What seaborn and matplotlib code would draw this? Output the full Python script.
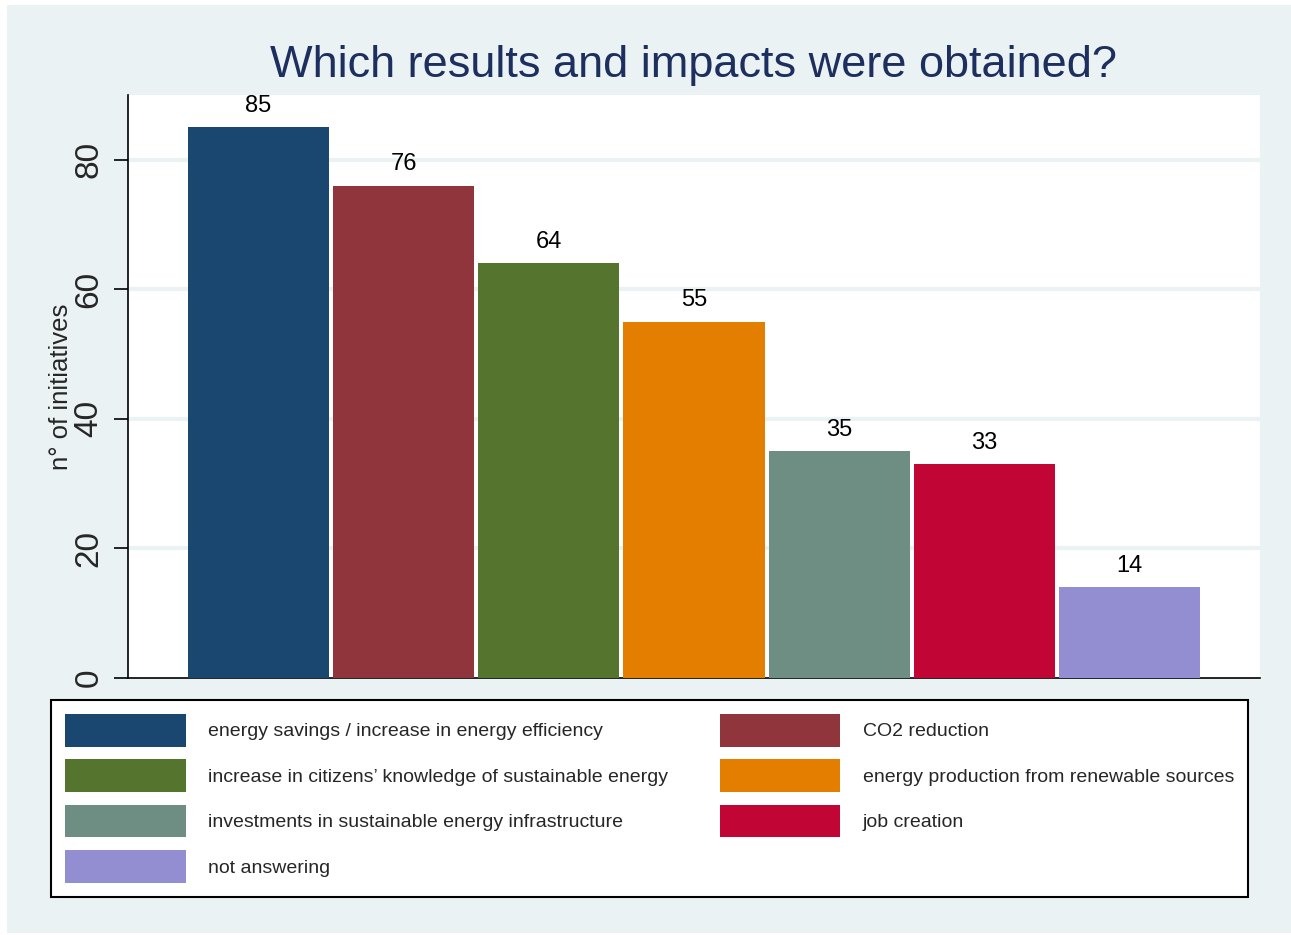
import matplotlib
matplotlib.use("Agg")
import matplotlib.pyplot as plt
import matplotlib.patches as mpatches
import seaborn as sns
import pandas as pd

categories = [
    "energy savings / increase in energy efficiency",
    "CO2 reduction",
    "increase in citizens\u2019 knowledge of sustainable energy",
    "energy production from renewable sources",
    "investments in sustainable energy infrastructure",
    "job creation",
    "not answering",
]
values = [85, 76, 64, 55, 35, 33, 14]
colors = ["#1A476F", "#90353B", "#55752F", "#E37E00", "#6E8E84", "#C10534", "#938DD2"]
yticks = [0, 20, 40, 60, 80]

bg = "#EAF2F3"
sns.set_style("white")
plt.rcParams["font.family"] = ["Liberation Sans", "DejaVu Sans"]

W, H = 1291, 935
fig = plt.figure(figsize=(W / 100, H / 100), dpi=100, facecolor="white")
fig.patches.append(mpatches.Rectangle((7 / W, 1 - 933 / H), 1 - 7 / W, (933 - 5) / H,
                                      transform=fig.transFigure, facecolor=bg,
                                      edgecolor="none", zorder=-10))

ax = fig.add_axes([128 / W, 1 - 678 / H, (1260 - 128) / W, (678 - 95) / H])
ax.set_facecolor("white")

df = pd.DataFrame({"cat": categories, "n": values})
sns.barplot(data=df, x="cat", y="n", hue="cat", palette=colors, order=categories,
            hue_order=categories, width=0.972, legend=False, saturation=1, ax=ax,
            linewidth=0, zorder=3)

for c in ax.containers:
    ax.bar_label(c, padding=7.5, fontsize=17, color="black")

ax.set_xlim(-0.9, 6.9)
ax.set_ylim(0, 90)
ax.set_xticks([])
ax.set_xlabel("")
ax.set_yticks(yticks)
ax.set_yticklabels([str(t) for t in yticks], rotation=90, va="center", fontsize=24)
ax.tick_params(axis="y", length=10, width=1.2, pad=7, color="black", left=True)
ax.set_ylabel("n\u00b0 of initiatives", fontsize=18.5, labelpad=0)
for t in yticks[1:]:
    ax.axhline(t, color=bg, lw=3, zorder=1)
for s in ["top", "right"]:
    ax.spines[s].set_visible(False)
for s in ["left", "bottom"]:
    ax.spines[s].set_color("black")
    ax.spines[s].set_linewidth(1.2)

fig.text(693 / W, 1 - 66 / H, "Which results and impacts were obtained?",
         ha="center", va="center", fontsize=32.5, color="#1C2F5E")

handles = [mpatches.Patch(facecolor=c, edgecolor="none") for c in colors]
order = [0, 2, 4, 6, 1, 3, 5]
leg = fig.legend([handles[i] for i in order], [categories[i] for i in order],
                 ncol=2, loc="upper left", mode="expand",
                 bbox_to_anchor=(51 / W, 1 - 700 / H, (1248 - 51) / W, 0),
                 fontsize=14, handlelength=6.2, handleheight=2.2,
                 handletextpad=1.15, labelspacing=0.66, borderpad=0.72,
                 borderaxespad=0, fancybox=False, framealpha=1,
                 edgecolor="black", facecolor="white")
leg.get_frame().set_linewidth(1.5)

fig.savefig("out.png", dpi=100, facecolor=fig.get_facecolor())
